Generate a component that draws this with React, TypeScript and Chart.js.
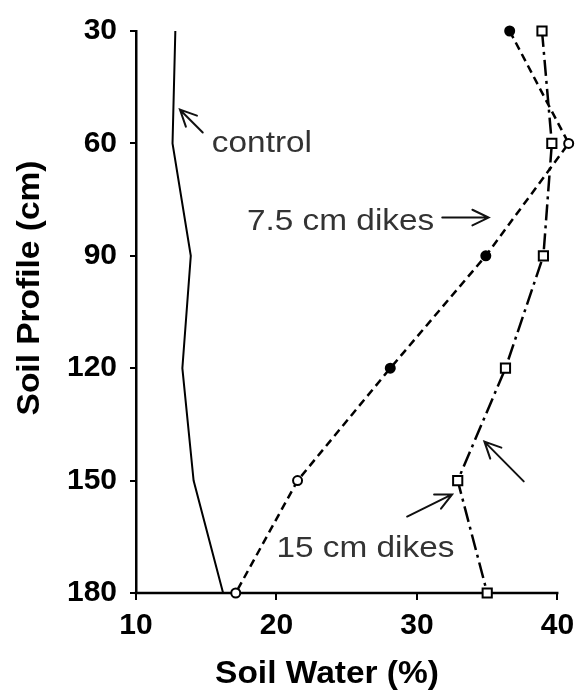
import React, { useEffect, useRef } from "react";
import { Chart, registerables } from "chart.js";

Chart.register(...registerables);

// ---- data ----
const depths = [30, 60, 90, 120, 150, 180];
const controlWater = [12.8, 12.6, 13.9, 13.3, 14.1, 16.2];
const dikes75Water = [36.6, 40.8, 34.9, 28.1, 21.5, 17.1];
const dikes15Water = [38.9, 39.6, 39.0, 36.3, 32.9, 35.0];
const dikes75Fill = ["#000", "#fff", "#000", "#000", "#fff", "#fff"];
const seriesLabels = ["control", "7.5 cm dikes", "15 cm dikes"];
const xTicks = [10, 20, 30, 40];
const yTicks = [30, 60, 90, 120, 150, 180];
const xAxisMin = 10;
const xAxisEnd = 40; // drawn axis line ends here
const xScaleMax = 41; // room for the point beyond the axis end
const xTitle = "Soil Water (%)";
const yTitle = "Soil Profile (cm)";

// annotation labels (data units)
const noteTexts = [
  { text: "control", x: 15.4, y: 62.2 },
  { text: "7.5 cm dikes", x: 17.9, y: 83.0 },
  { text: "15 cm dikes", x: 20.0, y: 170.5 },
];
const noteArrows = [
  { fx: 14.75, fy: 57.1, tx: 13.13, ty: 51.0 },
  { fx: 31.8, fy: 79.8, tx: 35.1, ty: 79.8 },
  { fx: 29.3, fy: 159.6, tx: 32.5, ty: 153.7 },
  { fx: 37.6, fy: 150.2, tx: 34.8, ty: 139.6 },
];

const FONT = "'Liberation Sans', Arial, sans-serif";

const axisLinePlugin = {
  id: "xAxisLine",
  beforeDatasetsDraw(chart: any) {
    const { ctx, scales } = chart;
    const sx = scales.x;
    const sy = scales.y;
    const y = sy.getPixelForValue(180);
    ctx.save();
    ctx.strokeStyle = "#000";
    ctx.lineWidth = 2.5;
    ctx.beginPath();
    ctx.moveTo(sx.getPixelForValue(xAxisMin) - 1.25, y);
    ctx.lineTo(sx.getPixelForValue(xAxisEnd) + 1, y);
    ctx.stroke();
    ctx.restore();
  },
};

const annotationPlugin = {
  id: "notes",
  afterDraw(chart: any) {
    const { ctx, scales } = chart;
    const sx = scales.x;
    const sy = scales.y;
    ctx.save();
    ctx.fillStyle = "#333";
    ctx.textBaseline = "alphabetic";
    ctx.textAlign = "left";
    ctx.font = `29px ${FONT}`;
    noteTexts.forEach((n) => {
      const px = sx.getPixelForValue(n.x);
      const py = sy.getPixelForValue(n.y);
      ctx.save();
      ctx.translate(px, py);
      ctx.scale(1.15, 1);
      ctx.fillText(n.text, 0, 0);
      ctx.restore();
    });
    ctx.strokeStyle = "#111";
    ctx.lineWidth = 2;
    ctx.lineCap = "round";
    noteArrows.forEach((a) => {
      const x1 = sx.getPixelForValue(a.fx);
      const y1 = sy.getPixelForValue(a.fy);
      const x2 = sx.getPixelForValue(a.tx);
      const y2 = sy.getPixelForValue(a.ty);
      const ang = Math.atan2(y2 - y1, x2 - x1);
      const L = 18;
      const s = 0.45;
      ctx.beginPath();
      ctx.moveTo(x1, y1);
      ctx.lineTo(x2, y2);
      ctx.moveTo(x2 - L * Math.cos(ang - s), y2 - L * Math.sin(ang - s));
      ctx.lineTo(x2, y2);
      ctx.lineTo(x2 - L * Math.cos(ang + s), y2 - L * Math.sin(ang + s));
      ctx.stroke();
    });
    ctx.fillStyle = "#000";
    ctx.font = `bold 31px ${FONT}`;
    ctx.textAlign = "center";
    ctx.textBaseline = "alphabetic";
    ctx.save();
    ctx.translate(327, 683);
    ctx.scale(1.08, 1);
    ctx.fillText(xTitle, 0, 0);
    ctx.restore();
    ctx.save();
    ctx.translate(39, 288);
    ctx.rotate(-Math.PI / 2);
    ctx.scale(1.08, 1);
    ctx.fillText(yTitle, 0, 0);
    ctx.restore();
    ctx.restore();
  },
};

export default function App() {
  const ref = useRef<HTMLCanvasElement | null>(null);
  useEffect(() => {
    if (!ref.current) return;
    const tickFont = { family: FONT, size: 30, weight: "bold" as const };
    // pixels per unit so that 10..40 spans 136..562
    const unitPx = (562 - 136) / (xAxisEnd - xAxisMin);
    const rightPad = 580 - (562 + (xScaleMax - xAxisEnd) * unitPx);
    const chart = new Chart(ref.current, {
      type: "line",
      data: {
        datasets: [
          {
            label: seriesLabels[0],
            data: depths.map((d, i) => ({ x: controlWater[i], y: d })),
            borderColor: "#000",
            borderWidth: 2,
            pointRadius: 0,
            fill: false,
            tension: 0,
            clip: false as any,
          },
          {
            label: seriesLabels[1],
            data: depths.map((d, i) => ({ x: dikes75Water[i], y: d })),
            borderColor: "#000",
            borderWidth: 2.5,
            borderDash: [8, 5],
            pointStyle: "circle",
            pointRadius: 4.5,
            pointBorderWidth: 2,
            pointBorderColor: "#000",
            pointBackgroundColor: dikes75Fill,
            fill: false,
            tension: 0,
            clip: false as any,
          },
          {
            label: seriesLabels[2],
            data: depths.map((d, i) => ({ x: dikes15Water[i], y: d })),
            borderColor: "#000",
            borderWidth: 2.5,
            borderDash: [16, 5, 3, 5],
            pointStyle: "rect",
            pointRadius: 6.5,
            pointBorderWidth: 2,
            pointBorderColor: "#000",
            pointBackgroundColor: "#fff",
            fill: false,
            tension: 0,
            clip: false as any,
          },
        ],
      },
      options: {
        animation: false,
        responsive: false,
        devicePixelRatio: 1,
        layout: { padding: { top: 31, right: rightPad, left: 0, bottom: 0 } },
        plugins: {
          legend: { display: false },
          tooltip: { enabled: false },
        },
        scales: {
          x: {
            type: "linear",
            min: xAxisMin,
            max: xScaleMax,
            afterBuildTicks: (s: any) => {
              s.ticks = xTicks.map((v) => ({ value: v }));
            },
            afterFit: (s: any) => {
              s.height = 690 - 593;
              s.paddingLeft = 0;
              s.paddingRight = 0;
            },
            ticks: {
              font: tickFont,
              color: "#000",
              padding: 8,
              maxRotation: 0,
              autoSkip: false,
            },
            grid: {
              display: true,
              drawOnChartArea: false,
              drawTicks: true,
              tickLength: 7,
              color: "#000",
              lineWidth: 2,
            },
            border: { display: false },
          },
          y: {
            type: "linear",
            reverse: true,
            min: 30,
            max: 180,
            afterBuildTicks: (s: any) => {
              s.ticks = yTicks.map((v) => ({ value: v }));
            },
            afterFit: (s: any) => {
              s.width = 136;
              s.paddingTop = 0;
              s.paddingBottom = 0;
            },
            ticks: {
              font: tickFont,
              color: "#000",
              padding: 13,
              autoSkip: false,
            },
            grid: {
              display: true,
              drawOnChartArea: false,
              drawTicks: true,
              tickLength: 6,
              color: "#000",
              lineWidth: 2,
            },
            border: { display: true, color: "#000", width: 2.5 },
          },
        },
      },
      plugins: [axisLinePlugin, annotationPlugin],
    });
    return () => chart.destroy();
  }, []);
  return (
    <div style={{ position: "fixed", left: 0, top: 0, width: 580, height: 690, background: "#fff" }}>
      <canvas ref={ref} width={580} height={690} style={{ width: 580, height: 690, display: "block" }} />
    </div>
  );
}
